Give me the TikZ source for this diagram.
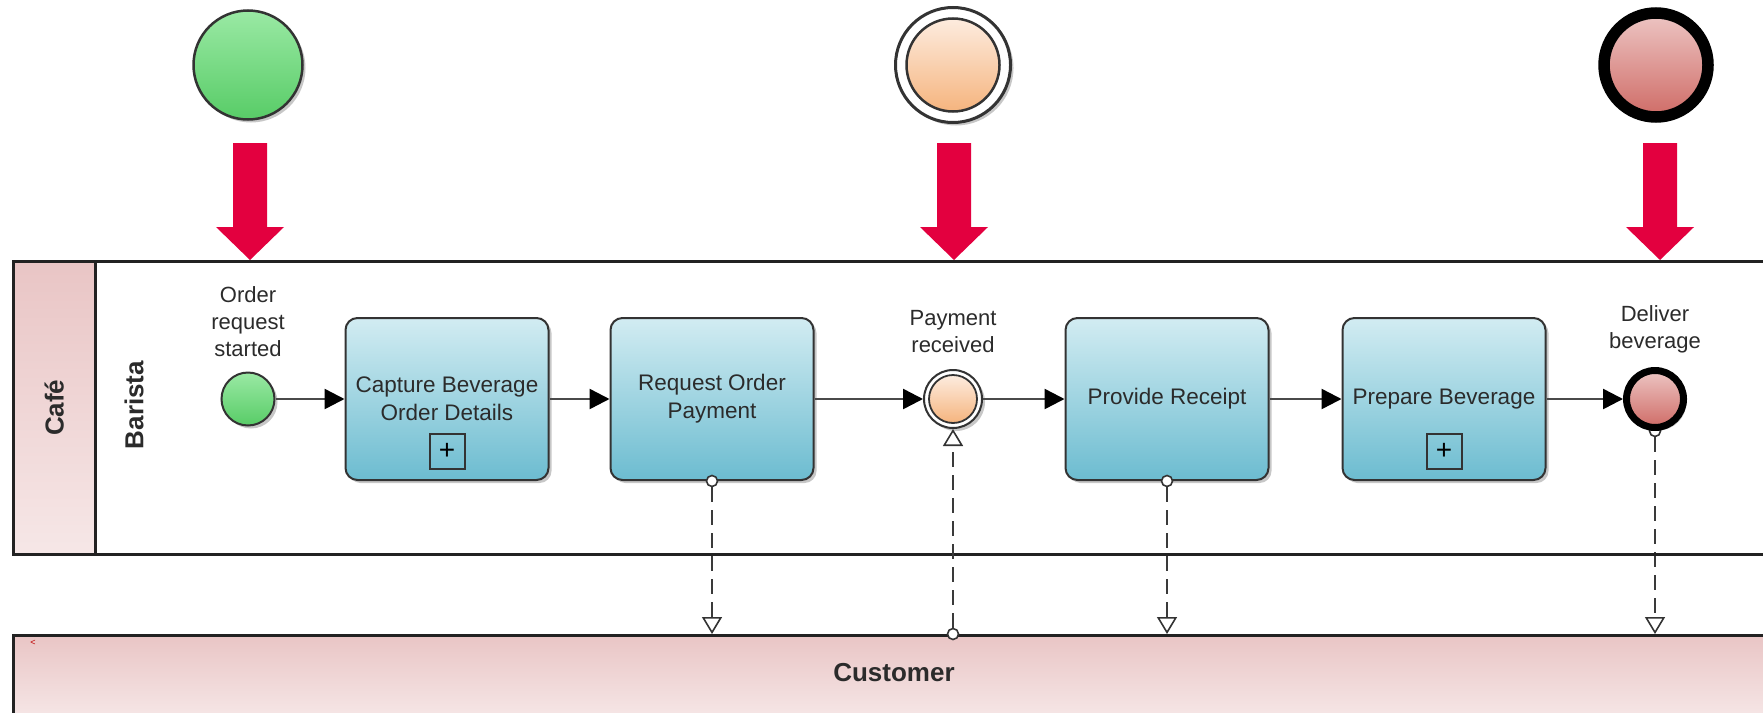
\documentclass[tikz,border=0pt]{standalone}
\usepackage{fontspec}
\setmainfont{Liberation Sans}
\usetikzlibrary{arrows.meta,shadows,calc}
\pgfdeclarelayer{back}
\pgfsetlayers{back,main}

\definecolor{edge}{HTML}{333333}
\definecolor{txt}{HTML}{2B2B2B}
\definecolor{flow}{HTML}{4A4A4A}
\definecolor{msgc}{HTML}{3A3A3A}
\definecolor{poolline}{HTML}{222222}
\definecolor{taskTop}{HTML}{D2ECF2}
\definecolor{taskBot}{HTML}{6CBCD0}
\definecolor{startTop}{HTML}{9AE9A4}
\definecolor{startBot}{HTML}{58CC67}
\definecolor{midTop}{HTML}{FDECDF}
\definecolor{midBot}{HTML}{F5B47E}
\definecolor{endTop}{HTML}{EDC6C4}
\definecolor{endBot}{HTML}{CF6B66}
\definecolor{pinkTop}{HTML}{E9C5C5}
\definecolor{pinkBot}{HTML}{F6E7E7}
\definecolor{crimson}{HTML}{E3003F}

\newcommand\tasktext{\fontsize{22.5}{28}\selectfont}
\newcommand\evtext{\fontsize{22}{27}\selectfont}
\newcommand\lanetext{\fontsize{26}{30}\selectfont\bfseries}

\begin{document}
\begin{tikzpicture}[x=1pt,y=-1pt,
  softshadow/.style={drop shadow={shadow xshift=3pt,shadow yshift=-3pt,opacity=0.22,fill=black}},
  pool/.style={rectangle,draw=poolline,line width=2.5pt,inner sep=0pt,anchor=north west},
  lanelabel/.style={font=\lanetext,text=txt,inner sep=0pt},
  evlabel/.style={align=center,font=\evtext,text=txt,inner sep=0pt},
  task/.style={rectangle,rounded corners=12pt,minimum width=203pt,minimum height=162pt,
    inner sep=2pt,top color=taskTop,bottom color=taskBot,draw=edge,line width=2pt,
    align=center,font=\tasktext,text=txt,softshadow},
  submark/.style={rectangle,draw=edge,line width=2pt,minimum size=35pt,inner sep=0pt,
    font=\fontsize{28}{28}\selectfont,text=black},
  startev/.style={circle,inner sep=0pt,draw=edge,line width=2pt,
    top color=startTop,bottom color=startBot,softshadow},
  midring/.style={circle,inner sep=0pt,draw=edge,line width=2pt,fill=white,softshadow},
  midcore/.style={circle,inner sep=0pt,draw=edge,line width=1.8pt,
    top color=midTop,bottom color=midBot},
  endev/.style={circle,inner sep=0pt,draw=black,line width=7pt,
    top color=endTop,bottom color=endBot,softshadow},
  seq/.style={draw=flow,line width=2.5pt,-{Triangle[length=20pt,width=20pt,color=black]}},
  msg/.style={draw=msgc,line width=2.6pt,dash pattern=on 15pt off 8pt,
    -{Triangle[length=17pt,width=20pt,color=edge,fill=white,line width=1.6pt]}},
  msgdot/.style={circle,draw=edge,fill=white,line width=1.6pt,minimum size=11pt,inner sep=0pt},
  pics/bigarrow/.style={code={
    \fill[crimson] (-17,0) -- (17,0) -- (17,84) -- (34,84) -- (0,117)
      -- (-34,84) -- (-17,84) -- cycle;}}
]
\useasboundingbox (0,0) rectangle (1763,712);
\clip (0,0) rectangle (1763,712);

% pools and lane
\node[pool,minimum width=1800pt,minimum height=293pt] (cafe) at (12,260) {};
\node[pool,minimum width=82pt,minimum height=293pt,top color=pinkTop,bottom color=pinkBot] (band) at (12,260) {};
\node[lanelabel,rotate=90] (cafename) at (band.center) {Café};
\node[lanelabel,rotate=90] (barista) at (134,405) {Barista};
\node[pool,minimum width=1800pt,minimum height=84pt,top color=pinkTop,bottom color=pinkBot] (cust) at (12,634) {};
\node[lanelabel] (custname) at (894,673) {Customer};
\node[font=\fontsize{9}{9}\selectfont,text=red!75!black,inner sep=0pt] (mark) at (33,643) {<};

% legend symbols above the lane
\node[startev,minimum size=109pt,line width=2.5pt] (topstart) at (248,65) {};
\node[midring,minimum size=115pt,line width=3pt] (topmid) at (953,65) {};
\node[midcore,minimum size=93pt,line width=2.5pt] (topmidcore) at (topmid) {};
\node[endev,minimum size=104pt,line width=11.5pt] (topend) at (1656,65) {};
\pic at (250,143) {bigarrow};
\pic at (954,143) {bigarrow};
\pic at (1660,143) {bigarrow};

% process
\node[startev,minimum size=53pt] (se) at (248,399) {};
\node[evlabel] (selabel) at (248,322) {Order\\request\\started};
\node[task] (t1) at (447,399) {Capture Beverage\\Order Details};
\node[submark] (t1sub) at ($(t1.center)+(0,52)$) {+};
\node[task] (t2) at (712,399) {Request Order\\Payment};
\node[midring,minimum size=58pt] (ie) at (953,399) {};
\node[midcore,minimum size=48pt] (iecore) at (ie) {};
\node[evlabel] (ielabel) at (953,332) {Payment\\received};
\node[task] (t3) at (1167,399) {Provide Receipt};
\node[task] (t4) at (1444,399) {Prepare Beverage};
\node[submark] (t4sub) at ($(t4.center)+(0,52)$) {+};
\node[endev,minimum size=57pt] (ee) at (1655,399) {};
\node[evlabel] (eelabel) at (1655,329) {Deliver\\beverage};

% sequence flows
\draw[seq] (se) -- (t1);
\draw[seq] (t1) -- (t2);
\draw[seq] (t2) -- (ie);
\draw[seq] (ie) -- (t3);
\draw[seq] (t3) -- (t4);
\draw[seq] (t4) -- (ee);

% message flows
\node[msgdot] (m2) at (t2.south) {};
\draw[msg] (m2.south) -- (t2.south |- cust.north);
\node[msgdot] (m3) at (t3.south) {};
\draw[msg] (m3.south) -- (t3.south |- cust.north);
\node[msgdot] (m5) at (ie.south |- cust.north) {};
\draw[msg] (m5.north) -- (ie.south);
\begin{pgfonlayer}{back}
  \node[msgdot] (m7) at (ee.south) {};
  \draw[msg] (m7.south) -- (ee.south |- cust.north);
\end{pgfonlayer}
\end{tikzpicture}
\end{document}
